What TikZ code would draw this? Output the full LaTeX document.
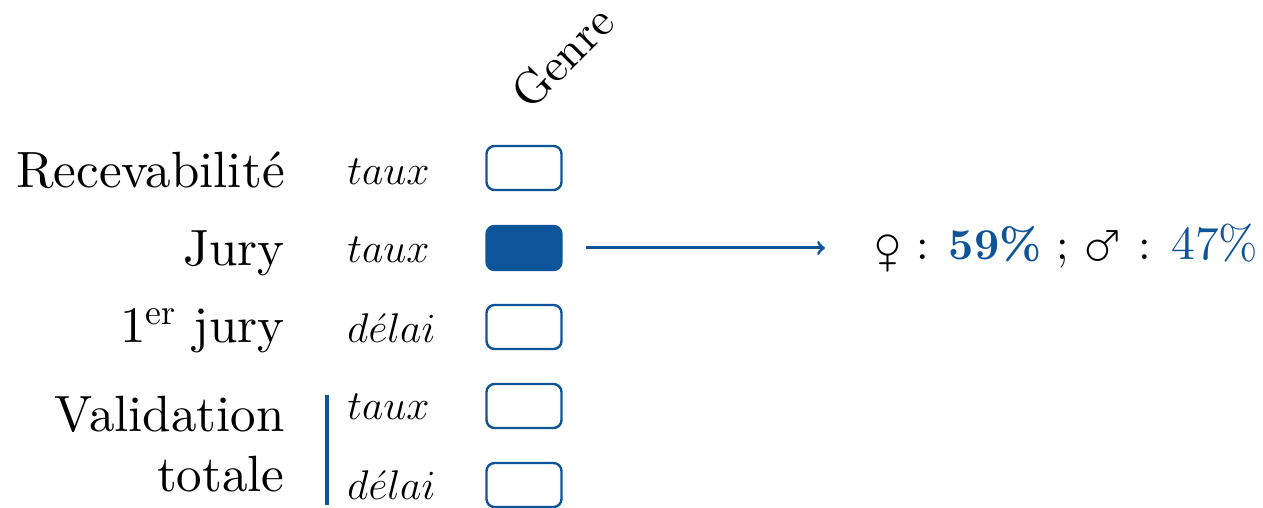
\documentclass[tikz,border=0pt]{standalone}
\usepackage{fontspec}
\setmainfont{lmroman10-regular.otf}[BoldFont=lmroman10-bold.otf, ItalicFont=lmroman10-italic.otf]
\usepackage{wasysym}
\usetikzlibrary{positioning}
\definecolor{bleu}{RGB}{14,84,152}
\newcommand{\taille}{\fontsize{25.5}{30}\selectfont}
\newcommand{\petit}{\fontsize{23.3}{28}\selectfont}
\newcommand{\signe}[1]{\raisebox{-1pt}{\scalebox{1.2}{#1}}}
\tikzset{
  case/.style={draw=bleu, line width=1.2pt, rounded corners=4pt,
    minimum width=37.5pt, minimum height=22pt, inner sep=0pt},
  casepleine/.style={case, fill=bleu},
  etape/.style={anchor=base east, inner sep=0pt},
  mesure/.style={anchor=base west, inner sep=0pt, font=\fontsize{22}{26}\selectfont},
  fleche/.style={->, draw=bleu, line width=1.5pt},
}

\begin{document}
\begin{tikzpicture}[x=0.5pt, y=0.5pt, font=\taille]
		%%%%% START %%%%%
		\useasboundingbox (0, 0) rectangle (1263, 508);
		
		\node[rotate=45, anchor=base west, inner sep=0pt, font=\petit] (genre) at (530, 396) {Genre};
		
		\node[etape] (recev) at (285, 320) {Recevabilité};
		\node[etape] (jury) at (285, 242) {Jury};
		\node[etape] (premier) at (285, 165) {1\textsuperscript{er} jury};
		\node[etape] (valid) at (285, 76) {Validation};
		\node[etape] (totale) at (285, 16) {totale};
		
		\node[mesure] (tauxA) at (347, 323) {$taux$};
		\node[mesure] (tauxB) at (347, 245) {$taux$};
		\node[mesure] (delaiA) at (347, 165) {$d\acute{e}lai$};
		\node[mesure] (tauxC) at (347, 88) {$taux$};
		\node[mesure] (delaiB) at (347, 8) {$d\acute{e}lai$};
		
		\node[case] (caseA) at (524, 340) {};
		\node[casepleine] (caseB) at (524, 260) {};
		\node[case] (caseC) at (524, 181) {};
		\node[case] (caseD) at (524, 102) {};
		\node[case] (caseE) at (524, 23) {};
		
		\coordinate (barreH) at (327, 113);
		\coordinate (barreB) at (327, 3);
		\draw[bleu, line width=2pt] (barreH) -- (barreB);
		
		\node[anchor=west, inner sep=3pt, font=\fontsize{22.5}{28}\selectfont] (resultat) at (868, 260)
		  {\signe{\female} : \textcolor{bleu}{\fontsize{22}{28}\selectfont\textbf{59\%}} ;
		   \signe{\male} : \textcolor{bleu}{\fontsize{23.7}{28}\selectfont 47\%}};
		\draw[fleche, shorten <=11.5pt, shorten >=21.5pt] (caseB) -- (resultat);
		
		%%%%% END %%%%%
	\end{tikzpicture}
\end{document}
